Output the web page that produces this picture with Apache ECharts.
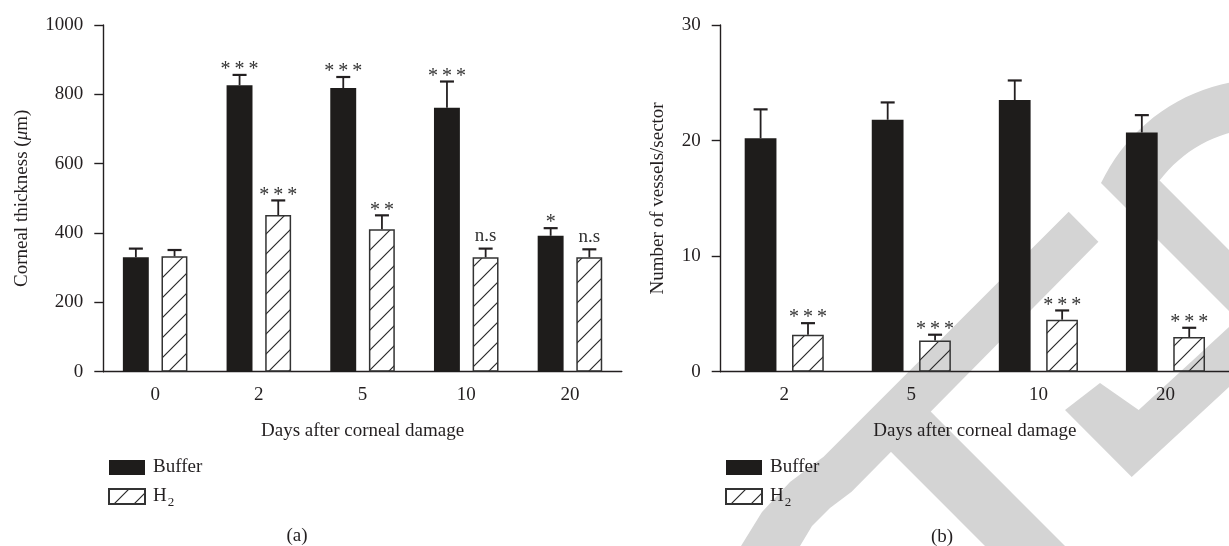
<!DOCTYPE html>
<html>
<head>
<meta charset="utf-8">
<script src="https://cdn.jsdelivr.net/npm/echarts@6/dist/echarts.min.js"></script>
<style>
html,body{margin:0;padding:0;background:#fff;}
#chart{width:1229px;height:546px;}
</style>
</head>
<body>
<div id="chart"></div>
<script>
// ---- data (a): corneal thickness ----
const daysA = ['0', '2', '5', '10', '20'];
const bufferThickness = [330, 826, 818, 761, 392];
const bufferThicknessErrTop = [355, 856, 850, 837, 414];
const h2Thickness = [333, 452, 411, 330, 330];
const h2ThicknessErrTop = [351, 494, 451, 355, 353];
const bufferThicknessSig = ['', '***', '***', '***', '*'];
const h2ThicknessSig = ['', '***', '**', 'n.s', 'n.s'];
const yTicksA = [0, 200, 400, 600, 800, 1000];

// ---- data (b): vessels per sector ----
const daysB = ['2', '5', '10', '20'];
const bufferVessels = [20.2, 21.8, 23.5, 20.7];
const bufferVesselsErrTop = [22.7, 23.3, 25.2, 22.2];
const h2Vessels = [3.2, 2.7, 4.5, 3.0];
const h2VesselsErrTop = [4.2, 3.2, 5.3, 3.8];
const bufferVesselsSig = ['', '', '', ''];
const h2VesselsSig = ['***', '***', '***', '***'];
const yTicksB = [0, 10, 20, 30];

const SERIF = 'Liberation Serif';
const INK = '#231f20';

// hatch pattern
function makeHatch(size) {
  const c = document.createElement('canvas');
  c.width = size; c.height = size;
  const g = c.getContext('2d');
  g.strokeStyle = '#2a2a2a';
  g.lineWidth = 1.2;
  g.beginPath();
  g.moveTo(-2, size + 2); g.lineTo(size + 2, -2);
  g.moveTo(-2, 2); g.lineTo(2, -2);
  g.moveTo(size - 2, size + 2); g.lineTo(size + 2, size - 2);
  g.stroke();
  return c;
}
const hatch = { image: makeHatch(20), repeat: 'repeat' };

const offBuffer = -0.186, offH2 = 0.187;

function errSeries(name, xIdx, means, tops, sigs, off) {
  return {
    type: 'custom',
    name: name + '_err',
    xAxisIndex: xIdx, yAxisIndex: xIdx,
    z: 5,
    clip: false,
    silent: true,
    data: means.map((m, i) => [i, m, tops[i]]),
    renderItem: function (params, api) {
      const i = api.value(0);
      const p0 = api.coord([i, api.value(1)]);
      const p1 = api.coord([i, api.value(2)]);
      const bw = api.size([1, 0])[0];
      const x = p0[0] + off * bw;
      const cap = 7;
      const children = [
        { type: 'line', shape: { x1: x, y1: p0[1], x2: x, y2: p1[1] }, style: { stroke: INK, lineWidth: 1.8 } },
        { type: 'line', shape: { x1: x - cap, y1: p1[1], x2: x + cap, y2: p1[1] }, style: { stroke: INK, lineWidth: 2.2 } }
      ];
      const s = sigs[params.dataIndex];
      if (s) {
        const isStar = s.indexOf('*') >= 0;
        children.push({
          type: 'text',
          x: x, y: isStar ? p1[1] + 5 : p1[1] - 3,
          style: {
            text: isStar ? s.split('').join('\u2009') : s,
            fontFamily: SERIF, fontSize: isStar ? 20 : 19,
            fill: '#333', textAlign: 'center', textVerticalAlign: 'bottom'
          }
        });
      }
      return { type: 'group', children: children };
    }
  };
}

function xAxisCfg(gridIndex, cats) {
  return {
    type: 'category', gridIndex: gridIndex, data: cats,
    name: 'Days after corneal damage', nameLocation: 'middle', nameGap: 50,
    nameTextStyle: { fontFamily: SERIF, fontSize: 19, color: INK },
    axisLine: { lineStyle: { color: INK, width: 1.4 } },
    axisTick: { alignWithLabel: true, length: 9, lineStyle: { color: INK, width: 1.4 } },
    axisLabel: { fontFamily: SERIF, fontSize: 19, color: INK, margin: 14 },
    splitLine: { show: false }
  };
}
function yAxisCfg(gridIndex, ticks, name, gap, rich) {
  return {
    type: 'value', gridIndex: gridIndex,
    min: ticks[0], max: ticks[ticks.length - 1], interval: ticks[1] - ticks[0],
    name: name, nameLocation: 'middle', nameGap: gap, nameRotate: 90,
    nameTextStyle: { fontFamily: SERIF, fontSize: 19, color: INK, rich: rich || {} },
    axisLine: { show: true, lineStyle: { color: INK, width: 1.4 } },
    axisTick: { show: true, length: 9, lineStyle: { color: INK, width: 1.4 } },
    axisLabel: { fontFamily: SERIF, fontSize: 19, color: INK, margin: 20, formatter: function (v) { return String(v); } },
    splitLine: { show: false }
  };
}

function legendCfg(left) {
  return {
    orient: 'vertical', left: left, top: 453,
    data: ['Buffer', 'H2'],
    itemWidth: 36, itemHeight: 15, itemGap: 10,
    icon: 'rect',
    formatter: function (n) { return n === 'H2' ? '{m|H}{sub|2}' : '{m|' + n + '}'; },
    textStyle: {
      fontFamily: SERIF, fontSize: 19, color: INK,
      rich: {
        m: { fontFamily: SERIF, fontSize: 19, color: INK, padding: [0, 0, 0, 3] },
        sub: { fontFamily: SERIF, fontSize: 13, color: INK, padding: [12, 0, 0, 1] }
      }
    }
  };
}

// decorative watermark (background only)
function ringPoly() {
  const cx = 1265, cy = 260, ro = 181, ri = 132;
  const pts = [];
  for (let a = 88; a >= 25.2; a -= 3) {
    const t = a * Math.PI / 180;
    pts.push([cx - ro * Math.cos(t), cy - ro * Math.sin(t)]);
  }
  pts.push([1101, 183]);
  pts.push([1300, 382]);
  pts.push([1300, 321]);
  pts.push([1159.6, 180.5]);
  for (let a = 37; a <= 88; a += 3) {
    const t = a * Math.PI / 180;
    pts.push([cx - ri * Math.cos(t), cy - ri * Math.sin(t)]);
  }
  return pts;
}
const WM = '#d4d4d4';
const watermark = [
  { type: 'polygon', z: -10, silent: true, shape: { points: [[1068.7, 211.7], [1098.4, 241.7], [851.6, 491.7], [830, 508], [812, 526], [800, 546], [741, 546], [762, 512], [790, 482], [823.6, 456.7]] }, style: { fill: WM } },
  { type: 'polygon', z: -10, silent: true, shape: { points: ringPoly() }, style: { fill: WM } },
  { type: 'polygon', z: -10, silent: true, shape: { points: [[929.6, 410.6], [1075, 556], [995, 556], [889.6, 450.5]] }, style: { fill: WM } },
  { type: 'polygon', z: -10, silent: true, shape: { points: [[1100, 383], [1138.7, 410], [1229, 327], [1229, 387], [1131.7, 477], [1065, 410]] }, style: { fill: WM } }
];

const chart = echarts.init(document.getElementById('chart'), null, { renderer: 'canvas' });
chart.setOption({
  animation: false,
  backgroundColor: '#fff',
  grid: [
    { left: 103.3, top: 25, width: 518.5, height: 346.7 },
    { left: 720.7, top: 25, width: 520.8, height: 346.7 }
  ],
  xAxis: [xAxisCfg(0, daysA), xAxisCfg(1, daysB)],
  yAxis: [
    yAxisCfg(0, yTicksA, 'Corneal thickness ({i|\u03bc}m)', 72, { i: { fontFamily: SERIF, fontSize: 19, fontStyle: 'italic', color: INK } }),
    yAxisCfg(1, yTicksB, 'Number of vessels/sector', 53)
  ],
  legend: [legendCfg(103), legendCfg(720)],
  graphic: watermark.concat([
    { type: 'text', x: 297, y: 536, style: { text: '(a)', fontFamily: SERIF, fontSize: 19, fill: INK, textAlign: 'center', textVerticalAlign: 'middle' } },
    { type: 'text', x: 942, y: 537, style: { text: '(b)', fontFamily: SERIF, fontSize: 19, fill: INK, textAlign: 'center', textVerticalAlign: 'middle' } }
  ]),
  series: [
    { type: 'bar', name: 'Buffer', xAxisIndex: 0, yAxisIndex: 0, data: bufferThickness, barWidth: '25%', barGap: '49%',
      itemStyle: { color: '#1e1c1b' } },
    { type: 'bar', name: 'H2', xAxisIndex: 0, yAxisIndex: 0, data: h2Thickness, barWidth: '25%', barGap: '49%',
      itemStyle: { color: hatch, borderColor: '#333', borderWidth: 1.5 } },
    { type: 'bar', name: 'Buffer', xAxisIndex: 1, yAxisIndex: 1, data: bufferVessels, barWidth: '25%', barGap: '49%',
      itemStyle: { color: '#1e1c1b' } },
    { type: 'bar', name: 'H2', xAxisIndex: 1, yAxisIndex: 1, data: h2Vessels, barWidth: '25%', barGap: '49%',
      itemStyle: { color: hatch, borderColor: '#333', borderWidth: 1.5 } },
    errSeries('Buffer', 0, bufferThickness, bufferThicknessErrTop, bufferThicknessSig, offBuffer),
    errSeries('H2', 0, h2Thickness, h2ThicknessErrTop, h2ThicknessSig, offH2),
    errSeries('Buffer', 1, bufferVessels, bufferVesselsErrTop, bufferVesselsSig, offBuffer),
    errSeries('H2', 1, h2Vessels, h2VesselsErrTop, h2VesselsSig, offH2)
  ]
});
</script>
</body>
</html>
